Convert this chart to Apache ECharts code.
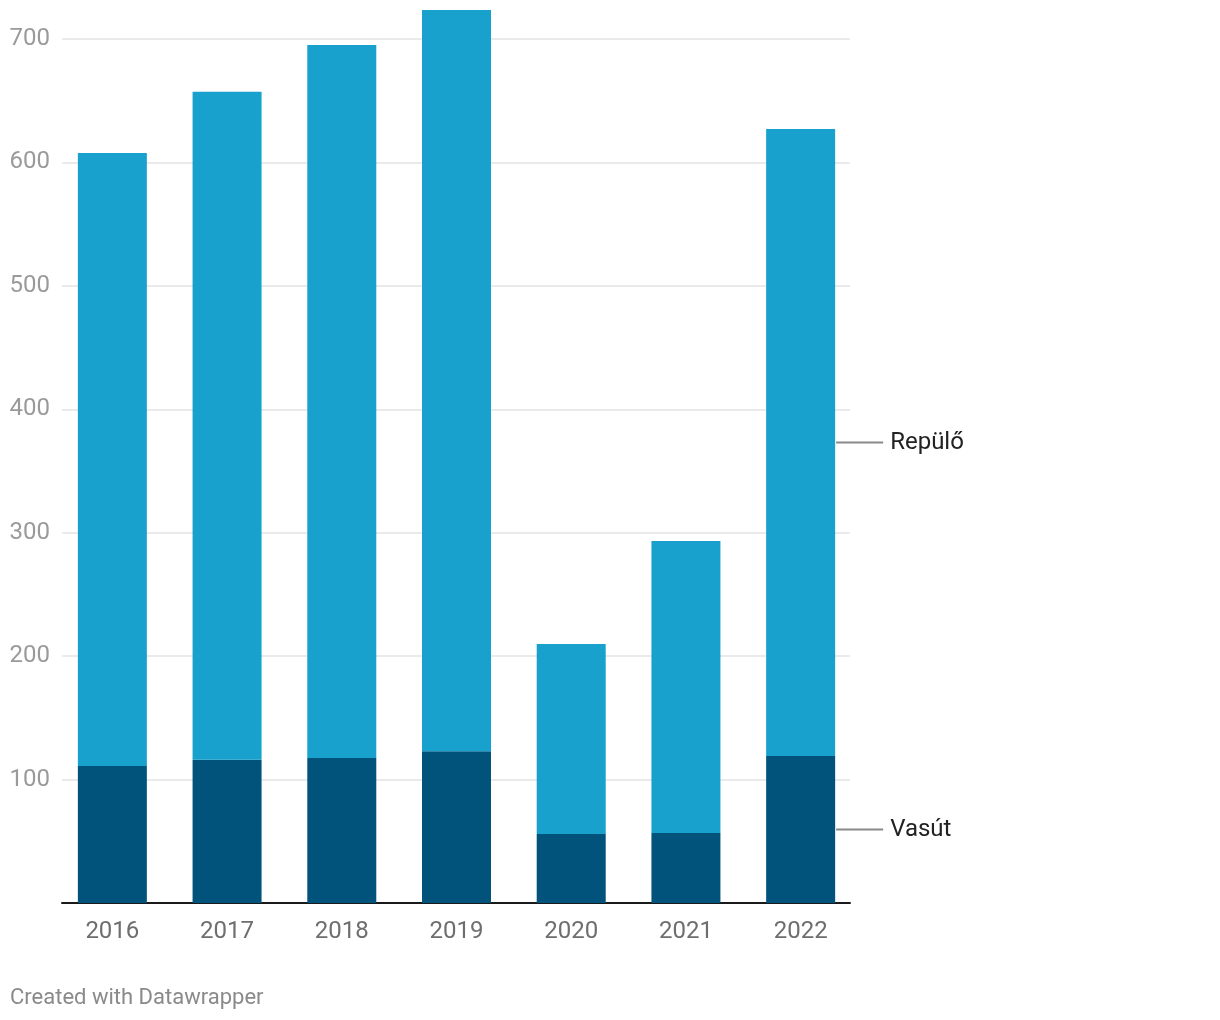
<!DOCTYPE html>
<html>
<head>
<meta charset="utf-8">
<script src="https://cdn.jsdelivr.net/npm/echarts@6/dist/echarts.min.js"></script>
<style>
html,body{margin:0;padding:0;background:#fff;}
#chart{width:1220px;height:1020px;}
</style>
</head>
<body>
<div id="chart"></div>
<script>
var years = ['2016','2017','2018','2019','2020','2021','2022'];
var vasut = [111, 116, 117.5, 123, 56, 56.7, 119];
var repulo = [496.6, 541.2, 577.6, 600.4, 153.9, 236.6, 508];
var yTicks = [0, 100, 200, 300, 400, 500, 600, 700];
var seriesNames = ['Vasút', 'Repülő'];

var chart = echarts.init(document.getElementById('chart'));
var font = 'Roboto, "Noto Sans", sans-serif';

function endLabel(name) {
  return {
    show: true,
    position: 'right',
    distance: 1,
    formatter: function (p) {
      return p.dataIndex === years.length - 1 ? '{l|}{t|' + name + '}' : '';
    },
    rich: {
      l: { width: 47, height: 2, backgroundColor: '#8a8a8a', verticalAlign: 'middle' },
      t: { fontFamily: font, fontSize: 24, color: '#222222', padding: [0, 0, 0, 7], verticalAlign: 'middle' }
    }
  };
}

var option = {
  backgroundColor: '#ffffff',
  animation: false,
  textStyle: { fontFamily: font },
  grid: [
    { left: 62, width: 788, top: 39, bottom: 117, containLabel: false },
    { left: 55, width: 803, top: 39, bottom: 117, containLabel: false }
  ],
  xAxis: [
    {
      gridIndex: 0, type: 'category', data: years,
      axisLine: { show: true, lineStyle: { color: '#1a1a1a', width: 2 } },
      axisTick: { show: false }, axisLabel: { show: false }, splitLine: { show: false }
    },
    {
      gridIndex: 1, type: 'category', data: years,
      axisLine: { show: false }, axisTick: { show: false },
      axisLabel: { show: true, color: '#6e6e6e', fontSize: 24, fontFamily: font, margin: 17 }
    }
  ],
  yAxis: [
    {
      gridIndex: 0, type: 'value', min: 0, max: 700, interval: 100,
      axisLine: { show: false }, axisTick: { show: false },
      axisLabel: {
        show: true, color: '#9a9a9a', fontSize: 24, fontFamily: font, margin: 12,
        formatter: function (v) { return (v === 0 || yTicks.indexOf(v) < 0) ? '' : String(v); }
      },
      splitLine: { show: true, lineStyle: { color: '#e3e3e3', width: 1.5 } }
    },
    {
      gridIndex: 1, type: 'value', min: 0, max: 700, interval: 100, show: false,
      splitLine: { show: false }
    }
  ],
  series: [
    {
      name: seriesNames[0], type: 'bar', stack: 'total', xAxisIndex: 1, yAxisIndex: 1,
      data: vasut, barWidth: 69, clip: false,
      itemStyle: { color: '#01537b' },
      label: endLabel(seriesNames[0])
    },
    {
      name: seriesNames[1], type: 'bar', stack: 'total', xAxisIndex: 1, yAxisIndex: 1,
      data: repulo, barWidth: 69, clip: false,
      itemStyle: { color: '#19a1cd' },
      label: endLabel(seriesNames[1])
    }
  ],
  graphic: [
    {
      type: 'text', left: 10, top: 987,
      style: { text: 'Created with Datawrapper', fill: '#8a8a8a', fontSize: 22, fontFamily: font }
    }
  ]
};
chart.setOption(option);
</script>
</body>
</html>
